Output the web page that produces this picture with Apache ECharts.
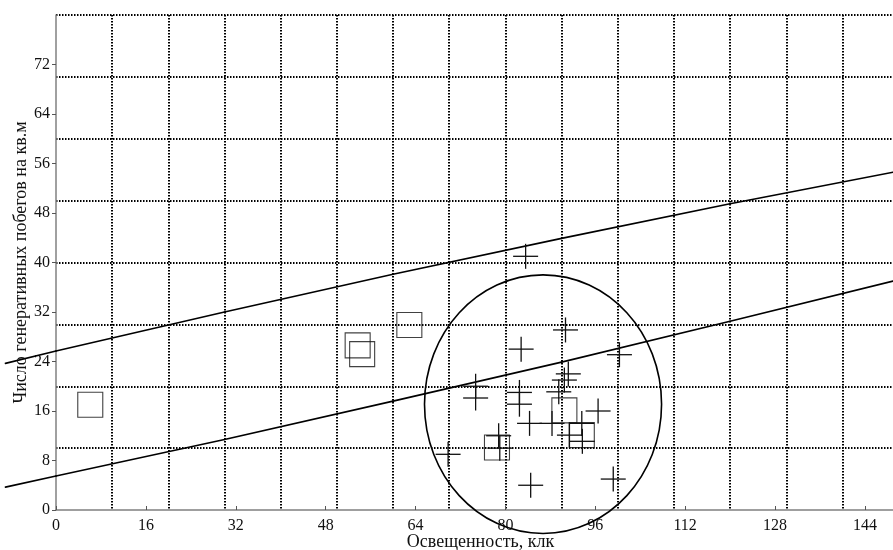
<!DOCTYPE html>
<html>
<head>
<meta charset="utf-8">
<script src="https://cdn.jsdelivr.net/npm/echarts@6/dist/echarts.min.js"></script>
<style>
  html, body { margin: 0; padding: 0; background: #fff; }
  #chart { width: 893px; height: 550px; }
</style>
</head>
<body>
<div id="chart"></div>
<script>
// Tick labels on the two axes
const xTicks = [0, 16, 32, 48, 64, 80, 96, 112, 128, 144];
const yTicks = [0, 8, 16, 24, 32, 40, 48, 56, 64, 72];

// Sites with few generative shoots (open squares)
const squareX = [6.1, 53.7, 54.5, 62.9, 78.5, 90.5, 93.6];
const squareY = [17.0, 26.6, 25.2, 29.9, 10.1, 16.1, 12.1];

// Sites inside the main cloud (crosses)
const crossX = [83.6, 90.7, 82.8, 100.3, 74.7, 74.7, 82.5, 82.5, 91.2, 90.5, 89.5,
                84.3, 88.3, 78.8, 79.0, 69.8, 84.5, 93.6, 93.7, 96.5, 91.4, 99.2];
const crossY = [41.0, 29.1, 26.0, 25.1, 20.0, 18.1, 19.0, 17.1, 22.0, 21.0, 19.1,
                14.0, 14.0, 12.0, 10.0, 9.0, 4.0, 14.0, 11.1, 16.0, 12.1, 5.0];

// Upper and lower boundary lines (they run a little past the y axis on the left)
const bandX  = [-9, 0, 30, 60, 90, 120, 149];
const upperY = [23.7, 25.7, 32.0, 38.1, 43.9, 49.5, 54.6];
const lowerY = [3.7, 5.5, 11.4, 17.6, 23.9, 30.5, 37.0];

// Ellipse enclosing the cloud: centre and radii in axis units
const ellipseCenter = [86.7, 17.1];
const ellipseRadius = [21.1, 20.9];

const FONT = 'Liberation Serif';
const zip = (a, b) => a.map((v, i) => [v, b[i]]);

const chart = echarts.init(document.getElementById('chart'), null, { renderer: 'canvas' });

const gridDots = { show: true, showMinLine: false, showMaxLine: true,
  lineStyle: { color: '#000', width: 2, type: [1.5, 1.5] } };

// Unclipped polyline: each item draws the segment to the next point
function bandSeries(name, xs, ys) {
  return {
    type: 'custom', name: name, xAxisIndex: 0, yAxisIndex: 0,
    data: zip(xs, ys), encode: { x: 0, y: 1 }, clip: false, z: 3,
    renderItem: function (params, api) {
      const i = params.dataIndex;
      if (i >= xs.length - 1) return null;
      const a = api.coord([xs[i], ys[i]]);
      const b = api.coord([xs[i + 1], ys[i + 1]]);
      return {
        type: 'line',
        shape: { x1: a[0], y1: a[1], x2: b[0], y2: b[1] },
        style: { stroke: '#000', lineWidth: 1.6, lineCap: 'round' }
      };
    }
  };
}

chart.setOption({
  animation: false,
  backgroundColor: '#fff',
  grid: { left: 56, right: 0, top: 15, bottom: 40, containLabel: false, outerBoundsMode: 'none' },
  xAxis: [
    {
      type: 'value', min: 0, max: 149, interval: 16,
      name: 'Освещенность, клк', nameLocation: 'middle', nameGap: 23, nameMoveOverlap: false,
      nameTextStyle: { fontFamily: FONT, fontSize: 18, color: '#111', padding: [0, 0, 0, 12] },
      axisLine: { show: true, lineStyle: { color: '#808080', width: 1.5 } },
      axisTick: { show: true, inside: true, length: 4, customValues: xTicks,
        lineStyle: { color: '#555', width: 1 } },
      axisLabel: { customValues: xTicks, margin: 8, fontFamily: FONT, fontSize: 16, color: '#111' },
      splitLine: { show: false }
    },
    {
      type: 'value', min: 0, max: 149, interval: 10, position: 'top',
      axisLine: { show: false }, axisTick: { show: false }, axisLabel: { show: false },
      splitLine: Object.assign({}, gridDots, { showMaxLine: false })
    }
  ],
  yAxis: [
    {
      type: 'value', min: 0, max: 80, interval: 8,
      name: 'Число генеративных побегов на кв.м', nameLocation: 'middle', nameGap: 26,
      nameMoveOverlap: false,
      nameTextStyle: { fontFamily: FONT, fontSize: 18, color: '#111' },
      axisLine: { show: true, lineStyle: { color: '#808080', width: 1.5 } },
      axisTick: { show: true, inside: false, length: 4, customValues: yTicks,
        lineStyle: { color: '#555', width: 1 } },
      axisLabel: { customValues: yTicks, margin: 6, fontFamily: FONT, fontSize: 16, color: '#111' },
      splitLine: { show: false }
    },
    {
      type: 'value', min: 0, max: 80, interval: 10, position: 'right',
      axisLine: { show: false }, axisTick: { show: false }, axisLabel: { show: false },
      splitLine: gridDots
    }
  ],
  series: [
    bandSeries('upper', bandX, upperY),
    bandSeries('lower', bandX, lowerY),
    {
      type: 'custom', name: 'ellipse', xAxisIndex: 0, yAxisIndex: 0,
      data: [[ellipseCenter[0], ellipseCenter[1], ellipseRadius[0], ellipseRadius[1]]],
      encode: { x: 0, y: 1 }, clip: false,
      renderItem: function (params, api) {
        const c = api.coord([api.value(0), api.value(1)]);
        const s = api.size([api.value(2), api.value(3)]);
        return {
          type: 'ellipse',
          shape: { cx: c[0], cy: c[1], rx: s[0], ry: s[1] },
          style: { fill: 'none', stroke: '#000', lineWidth: 1.6 }
        };
      },
      z: 3
    },
    {
      type: 'scatter', name: 'squares', xAxisIndex: 0, yAxisIndex: 0,
      data: zip(squareX, squareY), symbol: 'rect', symbolSize: 25,
      itemStyle: { color: 'rgba(0,0,0,0)', borderColor: '#111', borderWidth: 1.1 },
      z: 4
    },
    {
      type: 'custom', name: 'crosses', xAxisIndex: 0, yAxisIndex: 0,
      data: zip(crossX, crossY),
      encode: { x: 0, y: 1 },
      renderItem: function (params, api) {
        const p = api.coord([api.value(0), api.value(1)]);
        const h = 12.5;
        const st = { stroke: '#111', lineWidth: 1.3 };
        return {
          type: 'group',
          children: [
            { type: 'line', shape: { x1: p[0] - h, y1: p[1], x2: p[0] + h, y2: p[1] }, style: st },
            { type: 'line', shape: { x1: p[0], y1: p[1] - h, x2: p[0], y2: p[1] + h }, style: st }
          ]
        };
      },
      z: 4
    }
  ]
});
</script>
</body>
</html>
